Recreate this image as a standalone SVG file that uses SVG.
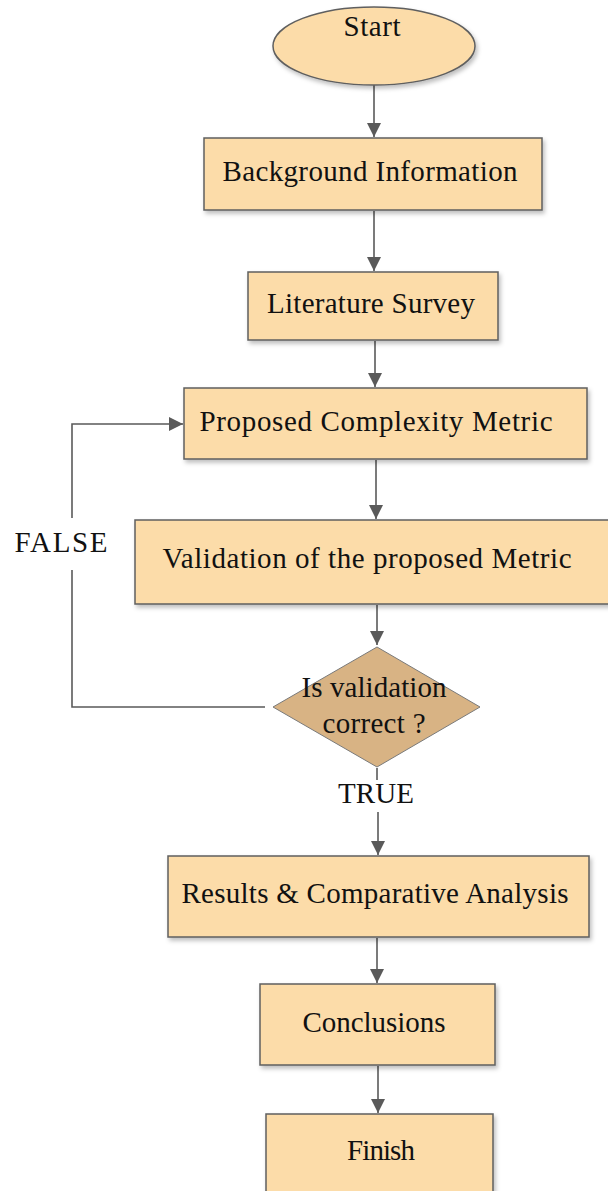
<svg xmlns="http://www.w3.org/2000/svg" width="608" height="1191" viewBox="0 0 608 1191">
<style>
.box{fill:#FCDCA9;stroke:#5F5F5F;stroke-width:1.5;filter:url(#sh)}
.dia{fill:#D8B384;stroke:#7A7A7A;stroke-width:1}
.t{font-family:"Liberation Serif","Times New Roman",serif;font-size:29px;fill:#111;text-anchor:middle}
.c{fill:none;stroke:#5A5A5A;stroke-width:1.6}
.ca{fill:none;stroke:#5A5A5A;stroke-width:1.6;marker-end:url(#ah)}
</style>
<defs>
<filter id="sh" x="-5%" y="-10%" width="115%" height="130%">
<feDropShadow dx="2" dy="3" stdDeviation="2" flood-color="#000" flood-opacity="0.25"/>
</filter>
<marker id="ah" markerUnits="userSpaceOnUse" markerWidth="16" markerHeight="16" viewBox="0 0 16 16" refX="15" refY="8" orient="auto">
<path d="M1,1 L15,8 L1,15 Z" fill="#5A5A5A"/>
</marker>
</defs>
<g id="connectors">
<path class="ca" d="M374 85 V137"/>
<path class="ca" d="M374 211 V271"/>
<path class="ca" d="M375 341 V387"/>
<path class="ca" d="M376 460 V519"/>
<path class="ca" d="M377 605 V645"/>
<path class="c" d="M377 768 V780"/>
<path class="ca" d="M378 812 V855"/>
<path class="ca" d="M377 938 V983"/>
<path class="ca" d="M378 1066 V1113"/>
<path class="c" d="M265 707 H72 V570"/>
<path class="ca" d="M72 518 V424 H183"/>
</g>
<g id="start">
<ellipse cx="374" cy="46" rx="101" ry="39" class="box"/>
<text class="t" x="372" y="36" textLength="57" lengthAdjust="spacing">Start</text>
</g>
<g id="background">
<rect x="204" y="138" width="338" height="72" class="box"/>
<text class="t" x="370" y="181" textLength="295" lengthAdjust="spacing">Background Information</text>
</g>
<g id="literature">
<rect x="248" y="272" width="250" height="68" class="box"/>
<text class="t" x="371" y="313" textLength="208" lengthAdjust="spacing">Literature Survey</text>
</g>
<g id="proposed">
<rect x="184" y="388" width="403" height="71" class="box"/>
<text class="t" x="376" y="431" textLength="353" lengthAdjust="spacing">Proposed Complexity Metric</text>
</g>
<g id="validation">
<rect x="135" y="520" width="480" height="84" class="box"/>
<text class="t" x="367" y="568" textLength="409" lengthAdjust="spacing">Validation of the proposed Metric</text>
</g>
<g id="decision">
<polygon class="dia" points="377,647 480,707 377,767 273,707"/>
<text class="t" x="374" y="697" textLength="145" lengthAdjust="spacing">Is validation</text>
<text class="t" x="374" y="733" textLength="103" lengthAdjust="spacing">correct ?</text>
</g>
<g id="labels">
<text class="t" x="376" y="803" textLength="76" lengthAdjust="spacing">TRUE</text>
<text class="t" x="61" y="552" textLength="93" lengthAdjust="spacing">FALSE</text>
</g>
<g id="results">
<rect x="168" y="856" width="421" height="81" class="box"/>
<text class="t" x="375" y="903" textLength="387" lengthAdjust="spacing">Results &amp; Comparative Analysis</text>
</g>
<g id="conclusions">
<rect x="260" y="984" width="235" height="81" class="box"/>
<text class="t" x="374" y="1032" textLength="143" lengthAdjust="spacing">Conclusions</text>
</g>
<g id="finish">
<rect x="266" y="1114" width="227" height="90" class="box"/>
<text class="t" x="381" y="1160" textLength="68" lengthAdjust="spacing">Finish</text>
</g>
</svg>
